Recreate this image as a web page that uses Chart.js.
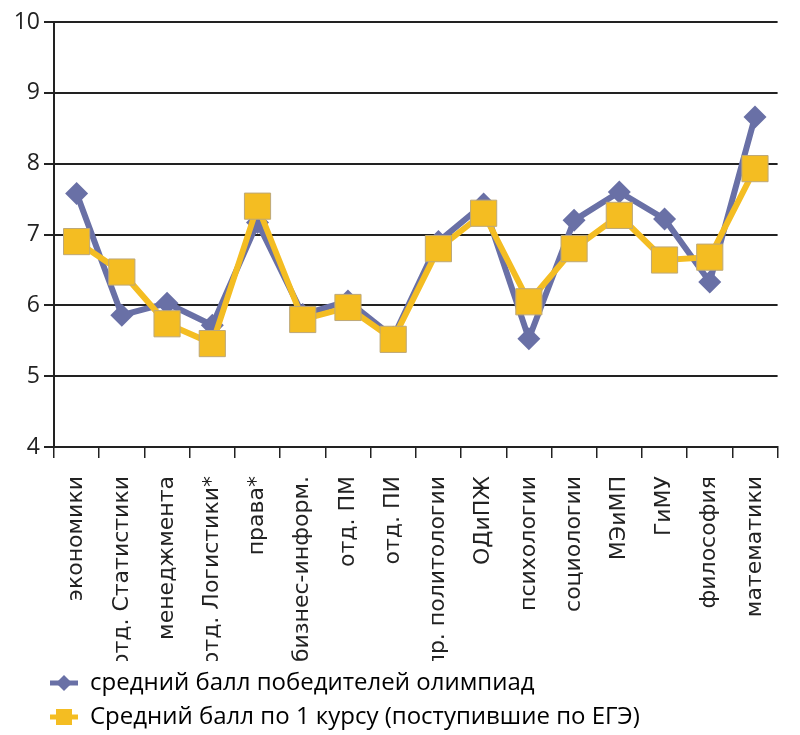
<!DOCTYPE html>
<html>
<head>
<meta charset="utf-8">
<script src="https://cdn.jsdelivr.net/npm/chart.js@4.4.1/dist/chart.umd.min.js"></script>
<style>
    html, body { margin: 0; padding: 0; background: #fff; }
    #wrap { width: 800px; height: 735px; }
</style>
</head>
<body>
<div id="wrap"><canvas id="olympChart" width="800" height="735"></canvas></div>
<script>
// Категории (отделения)
const categories = ['экономики', 'отд. Статистики', 'менеджмента', 'отд. Логистики*', 'права*',
    'бизнес-информ.', 'отд. ПМ', 'отд. ПИ', 'пр. политологии', 'ОДиПЖ', 'психологии',
    'социологии', 'МЭиМП', 'ГиМУ', 'философия', 'математики'];

// средний балл победителей олимпиад
const olympiadScores = [7.58, 5.86, 6.03, 5.72, 7.17, 5.87, 6.06, 5.55, 6.9, 7.43, 5.53, 7.2, 7.6, 7.22, 6.33, 8.66];
// Средний балл по 1 курсу (поступившие по ЕГЭ)
const egeScores = [6.9, 6.47, 5.74, 5.46, 7.4, 5.8, 5.97, 5.52, 6.8, 7.3, 6.05, 6.8, 7.27, 6.64, 6.68, 7.93];

const seriesNames = ['средний балл победителей олимпиад', 'Средний балл по 1 курсу (поступившие по ЕГЭ)'];
const yTicks = [4, 5, 6, 7, 8, 9, 10];

const blue = '#6970a6';
const gold = '#f4bd22';

// значок легенды: линия + маркер
function legendIcon(kind) {
    const c = document.createElement('canvas');
    c.width = 28;
    c.height = 20;
    const g = c.getContext('2d');
    g.lineWidth = 5;
    g.strokeStyle = kind === 'diamond' ? blue : gold;
    g.beginPath();
    g.moveTo(0, 10);
    g.lineTo(28, 10);
    g.stroke();
    if (kind === 'diamond') {
        g.fillStyle = blue;
        g.beginPath();
        g.moveTo(14, 2);
        g.lineTo(22, 10);
        g.lineTo(14, 18);
        g.lineTo(6, 10);
        g.closePath();
        g.fill();
    } else {
        g.fillStyle = gold;
        g.fillRect(6, 2, 16, 16);
    }
    return c;
}

// сдвиг легенды вправо (как в оригинале)
const legendShift = {
    id: 'legendShift',
    afterLayout(chart) {
        if (chart.legend) {
            chart.legend.left = 40;
        }
    }
};

const ctx = document.getElementById('olympChart').getContext('2d');

new Chart(ctx, {
    type: 'line',
    data: {
        labels: categories,
        datasets: [
            {
                label: seriesNames[0],
                data: olympiadScores,
                borderColor: blue,
                backgroundColor: blue,
                borderWidth: 6,
                pointStyle: 'rectRot',
                pointRadius: 11.5,
                pointBorderWidth: 0,
                pointBackgroundColor: blue,
                tension: 0,
                order: 2
            },
            {
                label: seriesNames[1],
                data: egeScores,
                borderColor: gold,
                backgroundColor: gold,
                borderWidth: 6,
                pointStyle: 'rect',
                pointRadius: 18.5,
                pointBorderWidth: 1,
                pointBorderColor: '#bda878',
                pointBackgroundColor: gold,
                tension: 0,
                order: 1
            }
        ]
    },
    options: {
        responsive: false,
        animation: false,
        layout: {
            padding: { top: 22, left: 0, right: 0, bottom: -4 }
        },
        scales: {
            x: {
                offset: true,
                grid: {
                    offset: true,
                    drawOnChartArea: false,
                    drawTicks: true,
                    tickLength: 11,
                    color: '#222',
                    lineWidth: 1.5
                },
                border: { display: true, color: '#222', width: 2 },
                ticks: {
                    autoSkip: false,
                    minRotation: 90,
                    maxRotation: 90,
                    padding: 18,
                    color: '#222',
                    font: { family: 'DejaVu Sans', size: 22 }
                },
                afterFit: function (scale) {
                    scale.height = 214;
                }
            },
            y: {
                min: yTicks[0],
                max: yTicks[yTicks.length - 1],
                grid: {
                    color: '#222',
                    lineWidth: 2,
                    tickLength: 10
                },
                border: { display: true, color: '#222', width: 2 },
                ticks: {
                    stepSize: 1,
                    padding: 4,
                    color: '#222',
                    font: { family: 'Open Sans', size: 23 },
                    callback: v => (yTicks.includes(v) ? String(v) : '')
                },
                afterFit: function (scale) {
                    scale.width = 54;
                }
            }
        },
        plugins: {
            tooltip: { enabled: false },
            legend: {
                position: 'bottom',
                align: 'start',
                labels: {
                    usePointStyle: true,
                    pointStyleWidth: 28,
                    padding: 10,
                    color: '#111',
                    font: { family: 'Open Sans', size: 24 },
                    sort: (a, b) => a.datasetIndex - b.datasetIndex,
                    generateLabels: function (chart) {
                        return chart.data.datasets.map((ds, i) => ({
                            text: ds.label,
                            pointStyle: legendIcon(i === 0 ? 'diamond' : 'square'),
                            fillStyle: ds.borderColor,
                            strokeStyle: ds.borderColor,
                            lineWidth: 0,
                            hidden: false,
                            datasetIndex: i
                        }));
                    }
                }
            }
        }
    },
    plugins: [legendShift]
});
</script>
</body>
</html>
